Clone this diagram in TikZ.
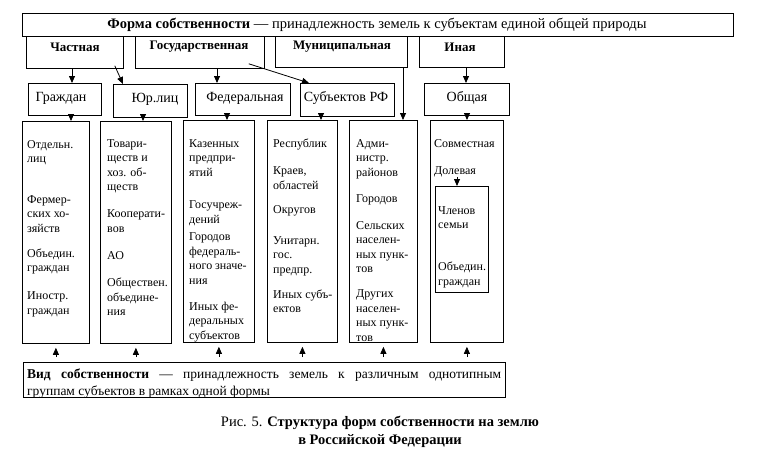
\documentclass[tikz,border=0pt]{standalone}
\usepackage{fontspec}
\setmainfont{Liberation Serif}
\usetikzlibrary{arrows.meta}
\begin{document}
\begin{tikzpicture}[x=1pt,y=-1pt,
  box/.style={draw, line width=0.8pt, inner sep=0pt, anchor=north west},
  arr/.style={draw, line width=0.8pt, -{Triangle[width=6pt,length=7pt]}},
  cat/.style={font=\fontsize{13}{15}\selectfont\bfseries, inner sep=0pt},
  subt/.style={font=\fontsize{14}{16}\selectfont, inner sep=0pt},
  coltext/.style={font=\fontsize{12}{14.5}\selectfont, align=left, anchor=north west, inner sep=0pt},
]
\useasboundingbox (0,0) rectangle (778,461);

% top box
\node[box, minimum width=711pt, minimum height=23pt] (forma) at (22,13) {};
\node[font=\fontsize{14.5}{16}\selectfont, inner sep=0pt] (format) at (377,25)
  {\textbf{Форма собственности} — принадлежность земель к субъектам единой общей природы};

% category boxes
\node[box, minimum width=97pt, minimum height=32pt] (chast) at (26,36) {};
\node[cat] (chastt) at (75,47) {Частная};
\node[box, minimum width=129pt, minimum height=32pt] (gos) at (135,36) {};
\node[cat] (gost) at (199,47) {Государственная};
\node[box, minimum width=132pt, minimum height=31pt] (mun) at (275,36) {};
\node[cat] (munt) at (342,47) {Муниципальная};
\node[box, minimum width=85pt, minimum height=31pt] (inaya) at (419,36) {};
\node[cat] (inayat) at (460,47) {Иная};

% second row
\node[box, minimum width=73pt, minimum height=32pt] (grazh) at (28,83) {};
\node[subt] (grazht) at (61,98) {Граждан};
\node[box, minimum width=74pt, minimum height=33pt] (yur) at (113,84) {};
\node[subt] (yurt) at (155,99) {Юр.лиц};
\node[box, minimum width=95pt, minimum height=32pt] (fed) at (195,83) {};
\node[subt] (fedt) at (245,98) {Федеральная};
\node[box, minimum width=94pt, minimum height=33pt] (subrf) at (300,83) {};
\node[subt] (subrft) at (346,98) {Субъектов РФ};
\node[box, minimum width=85pt, minimum height=32pt] (obsh) at (424,83) {};
\node[subt] (obsht) at (467,98) {Общая};

% columns
\node[box, minimum width=67pt, minimum height=222pt] (c1) at (22,121) {};
\node[box, minimum width=71pt, minimum height=222pt] (c2) at (100,121) {};
\node[box, minimum width=71pt, minimum height=222pt] (c3) at (183,120) {};
\node[box, minimum width=70pt, minimum height=222pt] (c4) at (267,120) {};
\node[box, minimum width=68pt, minimum height=222pt] (c5) at (349,120) {};
\node[box, minimum width=73pt, minimum height=222pt] (c6) at (430,120) {};
\node[box, minimum width=53pt, minimum height=106pt] (inner) at (435,186) {};

\node[coltext] (t1) at (27,140) {Отдельн.\\лиц\\[26pt]Фермер-\\ских хо-\\зяйств\\[10.5pt]Объедин.\\граждан\\[13.5pt]Иностр.\\граждан};
\node[coltext] (t2) at (107,139) {Товари-\\ществ и\\хоз. об-\\ществ\\[12.5pt]Кооперати-\\вов\\[12.5pt]АО\\[13pt]Обществен.\\объедине-\\ния};
\node[coltext] (t3) at (189,139) {Казенных\\предпри-\\ятий\\[18pt]Госучреж-\\дений\\[3pt]Городов\\федераль-\\ного значе-\\ния\\[11.5pt]Иных фе-\\деральных\\субъектов};
\node[coltext] (t4) at (273,139) {Республик\\[12.5pt]Краев,\\областей\\[9.5pt]Округов\\[16.5pt]Унитарн.\\гос.\\предпр.\\[10.5pt]Иных субъ-\\ектов};
\node[coltext] (t5) at (356,139) {Адми-\\нистр.\\районов\\[12pt]Городов\\[12pt]Сельских\\населен-\\ных пунк-\\тов\\[10.5pt]Других\\населен-\\ных пунк-\\тов};
\node[coltext] (t6) at (434,139) {Совместная\\[12.5pt]Долевая};
\node[coltext] (t7) at (438,206) {Членов\\семьи\\[27.5pt]Объедин.\\граждан};

% bottom box
\node[box, minimum width=482pt, minimum height=35pt] (vid) at (23,362) {};
\node[font=\fontsize{13.5}{16.5}\selectfont, text width=474pt, align=justify, inner sep=0pt, anchor=north west] (vidt) at (27,369)
  {\textbf{Вид собственности} — принадлежность земель к различным однотипным\linebreak группам субъектов в рамках одной формы};

% caption
\node[font=\fontsize{14.5}{18.5}\selectfont, align=center, inner sep=0pt] (cap) at (380,432)
  {Рис. 5. \textbf{Структура форм собственности на землю}\\\textbf{в Российской Федерации}};

% coordinates for vertical arrows
\coordinate (x1) at (72,0);
\coordinate (x2) at (217,0);
\coordinate (x3) at (403,0);
\coordinate (x4) at (466,0);
\coordinate (y1) at (71,0);
\coordinate (y2) at (143,0);
\coordinate (y3) at (227,0);
\coordinate (y4) at (321,0);
\coordinate (y5) at (467,0);
\coordinate (y6) at (457,0);

\draw[arr] (chast.south -| x1) -- (grazh.north -| x1);
\draw[arr] ([xshift=-9pt,yshift=3pt]chast.south east) -- ([xshift=10pt]yur.north west);
\draw[arr] (gos.south -| x2) -- (fed.north -| x2);
\draw[arr] ([xshift=-16pt,yshift=5pt]gos.south east) -- ([xshift=9pt]subrf.north west);
\draw[arr] (mun.south -| x3) -- (c5.north -| x3);
\draw[arr] (inaya.south -| x4) -- (obsh.north -| x4);

\draw[arr] (grazh.south -| y1) -- (c1.north -| y1);
\draw[arr] (yur.south -| y2) -- (c2.north -| y2);
\draw[arr] (fed.south -| y3) -- (c3.north -| y3);
\draw[arr] (subrf.south -| y4) -- (c4.north -| y4);
\draw[arr] (obsh.south -| y5) -- (c6.north -| y5);
\draw[arr] (t6.south -| y6) -- (inner.north -| y6);

\foreach \c in {c1,c2,c3,c4,c5,c6}
  \draw[arr, shorten <=5pt, shorten >=4pt] (vid.north -| \c.south) -- (\c.south);
\end{tikzpicture}
\end{document}
